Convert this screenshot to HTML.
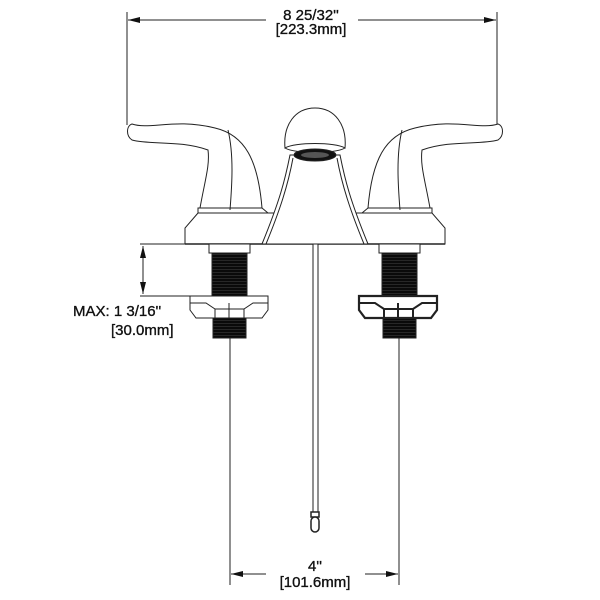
<!DOCTYPE html>
<html><head><meta charset="utf-8"><style>
html,body{margin:0;padding:0;background:#fff;}
svg{display:block;}
text{font-family:"Liberation Sans",Arial,sans-serif;fill:#111;stroke:#111;stroke-width:0.35;}
</style></head><body>
<svg width="600" height="600" viewBox="0 0 600 600" xmlns="http://www.w3.org/2000/svg">
<defs>
<marker id="a" markerWidth="12" markerHeight="8" refX="12" refY="4" orient="auto-start-reverse" markerUnits="userSpaceOnUse"><path d="M0,1 L12,4 L0,7 z" fill="#111"/></marker>
<pattern id="thr" width="4" height="3" patternUnits="userSpaceOnUse"><rect width="4" height="3" fill="#0a0a0a"/><rect y="2" width="4" height="0.5" fill="#444"/></pattern>
</defs>
<g stroke="#222" stroke-width="1" fill="none">
<line x1="127" y1="12" x2="127" y2="125"/>
<line x1="497" y1="12" x2="497" y2="125"/>
<line x1="128" y1="20" x2="496" y2="20" marker-start="url(#a)" marker-end="url(#a)"/>
<path d="M198,213 L185,228 L185,244 L445,244 L445,228 L432,213 Z" fill="#fff"/>
<line x1="185" y1="244" x2="445" y2="244" stroke-width="1.5"/>
<path d="M200,208 C205,180 210,165 208,150 C180,140 150,145 132,140 C126,136 126,126 132,124 C150,130 175,118 215,128 C245,135 258,160 262,208 Z" fill="#fff"/>
<path d="M198,208 L262,208 L268,213 L198,213 Z" fill="#fff"/>
<path d="M228,130 C234,155 232,185 230,210"/>
<g transform="translate(630,0) scale(-1,1)">
<path d="M200,208 C205,180 210,165 208,150 C180,140 150,145 132,140 C126,136 126,126 132,124 C150,130 175,118 215,128 C245,135 258,160 262,208 Z" fill="#fff"/>
<path d="M198,208 L262,208 L268,213 L198,213 Z" fill="#fff"/>
<path d="M228,130 C234,155 232,185 230,210"/>
</g>
<path d="M290,155 C285,180 280,200 262,244 L368,244 C350,200 345,180 340,155 Z" fill="#fff"/>
<path d="M293,158 C288,185 280,210 266,244 M337,158 C342,185 350,210 364,244"/>
<path d="M285,148 C283,125 295,108 315,108 C335,108 347,125 345,148 C335,142 295,142 285,148 Z" fill="#fff"/>
<path d="M285,148 C295,154 335,154 345,148" />
<ellipse cx="315" cy="155" rx="21" ry="6" fill="#111"/>
<ellipse cx="315" cy="155" rx="14" ry="3" fill="#555" stroke="none"/>
<rect x="313" y="244" width="5" height="268" fill="#fff"/>
<rect x="311" y="512" width="8" height="5" fill="#fff" stroke-width="1.5"/>
<rect x="311" y="517" width="8" height="15" rx="4" fill="#fff" stroke-width="1.5"/>
<rect x="209" y="244" width="41" height="9" fill="#fff"/>
<rect x="212" y="253" width="35" height="43" fill="url(#thr)"/>
<rect x="213" y="318" width="33" height="20" fill="url(#thr)"/>
<path d="M190,296 L268,296 L268,310 L262,318 L196,318 L190,310 Z" fill="#fff"/>
<path d="M190,303 L206,303 L215,309 L244,309 L253,303 L268,303 M215,309 L215,318 M244,309 L244,318 M229,303 L229,318"/>
<rect x="379" y="244" width="41" height="9" fill="#fff"/>
<rect x="382" y="253" width="35" height="43" fill="url(#thr)"/>
<rect x="383" y="318" width="33" height="20" fill="url(#thr)"/>
<path d="M359,296 L437,296 L437,310 L431,318 L365,318 L359,310 Z" fill="#fff" stroke-width="2.2"/>
<path d="M359,303 L375,303 L384,309 L413,309 L422,303 L437,303 M384,309 L384,318 M413,309 L413,318 M398,303 L398,318" stroke-width="2"/>
<line x1="140" y1="244" x2="185" y2="244"/>
<line x1="140" y1="296" x2="190" y2="296"/>
<line x1="143" y1="246" x2="143" y2="294" marker-start="url(#a)" marker-end="url(#a)"/>
<line x1="230" y1="338" x2="230" y2="585"/>
<line x1="399" y1="338" x2="399" y2="585"/>
<line x1="231" y1="574" x2="398" y2="574" marker-start="url(#a)" marker-end="url(#a)"/>
</g>
<rect x="266" y="561" width="99" height="26" fill="#fff"/>
<rect x="266" y="5" width="92" height="32" fill="#fff"/>
<text x="311" y="20" font-size="15" text-anchor="middle">8 25/32''</text>
<text x="311" y="34" font-size="15" text-anchor="middle">[223.3mm]</text>
<text x="73" y="316" font-size="15">MAX:  1 3/16''</text>
<text x="111" y="335" font-size="15">[30.0mm]</text>
<text x="315" y="571" font-size="15" text-anchor="middle">4''</text>
<text x="315" y="587" font-size="15" text-anchor="middle">[101.6mm]</text>
</svg>
</body></html>
